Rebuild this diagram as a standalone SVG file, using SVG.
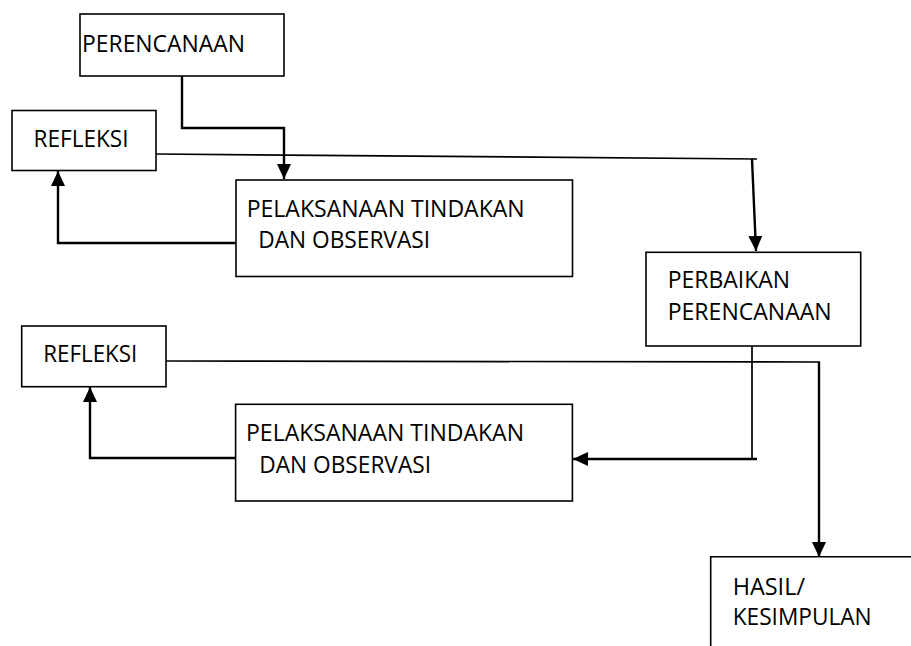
<svg xmlns="http://www.w3.org/2000/svg" width="911" height="646" viewBox="0 0 911 646">
<style>
.box{fill:#fff;stroke:#000;stroke-width:1.6}
.t{font-family:"Open Sans","Noto Sans",sans-serif;font-size:23.5px;fill:#000}
.c{fill:none;stroke:#000;stroke-width:1.7}
.ct{fill:none;stroke:#000;stroke-width:2.4}
</style>
<defs>
<marker id="ah" markerUnits="userSpaceOnUse" markerWidth="16" markerHeight="15" refX="15" refY="7" orient="auto" viewBox="0 0 16 14">
<path d="M0,0 L15,7 L0,14 z" fill="#000"/>
</marker>
</defs>
<rect width="911" height="646" fill="#fff"/>
<g id="connectors">
<polyline class="ct" points="182,76 182,128 284,128 284,179" marker-end="url(#ah)"/>
<polyline class="c" points="156,154 757,159"/>
<polyline class="ct" points="752,159 756,251" marker-end="url(#ah)"/>
<polyline class="ct" points="236,243 58,243 58,171" marker-end="url(#ah)"/>
<polyline class="c" points="752,346 752,459"/>
<polyline class="ct" points="757,459 573,459" marker-end="url(#ah)"/>
<polyline class="ct" points="236,458 90,458 90,387" marker-end="url(#ah)"/>
<polyline class="c" points="166,361 820,362"/>
<polyline class="ct" points="819,362 819,557" marker-end="url(#ah)"/>
</g>
<g id="perencanaan">
<rect class="box" x="80" y="14" width="204" height="62"/>
<text class="t" x="82" y="52" textLength="163" lengthAdjust="spacingAndGlyphs">PERENCANAAN</text>
</g>
<g id="refleksi1">
<rect class="box" x="12" y="110.5" width="144" height="60"/>
<text class="t" x="33.5" y="146.7" textLength="95" lengthAdjust="spacingAndGlyphs">REFLEKSI</text>
</g>
<g id="pelaksanaan1">
<rect class="box" x="236" y="180" width="336.5" height="96.5"/>
<text class="t" x="246.7" y="217.3" textLength="278" lengthAdjust="spacingAndGlyphs">PELAKSANAAN TINDAKAN</text>
<text class="t" x="258.3" y="248.3" textLength="171.7" lengthAdjust="spacingAndGlyphs">DAN OBSERVASI</text>
</g>
<g id="perbaikan">
<rect class="box" x="646" y="252.3" width="214.7" height="93.7"/>
<text class="t" x="667.7" y="288.3" textLength="122.3" lengthAdjust="spacingAndGlyphs">PERBAIKAN</text>
<text class="t" x="667.7" y="320" textLength="164" lengthAdjust="spacingAndGlyphs">PERENCANAAN</text>
</g>
<g id="refleksi2">
<rect class="box" x="21.7" y="326" width="144.3" height="60.7"/>
<text class="t" x="43.3" y="361.7" textLength="94" lengthAdjust="spacingAndGlyphs">REFLEKSI</text>
</g>
<g id="pelaksanaan2">
<rect class="box" x="235.6" y="404.3" width="336.8" height="96.7"/>
<text class="t" x="246" y="440.5" textLength="278" lengthAdjust="spacingAndGlyphs">PELAKSANAAN TINDAKAN</text>
<text class="t" x="259.3" y="473" textLength="171.7" lengthAdjust="spacingAndGlyphs">DAN OBSERVASI</text>
</g>
<g id="hasil">
<polyline class="box" fill="none" points="710.7,650 710.7,556.7 915,556.7"/>
<text class="t" x="732.7" y="595" textLength="72.3" lengthAdjust="spacingAndGlyphs">HASIL/</text>
<text class="t" x="732.7" y="625" textLength="139" lengthAdjust="spacingAndGlyphs">KESIMPULAN</text>
</g>
</svg>
